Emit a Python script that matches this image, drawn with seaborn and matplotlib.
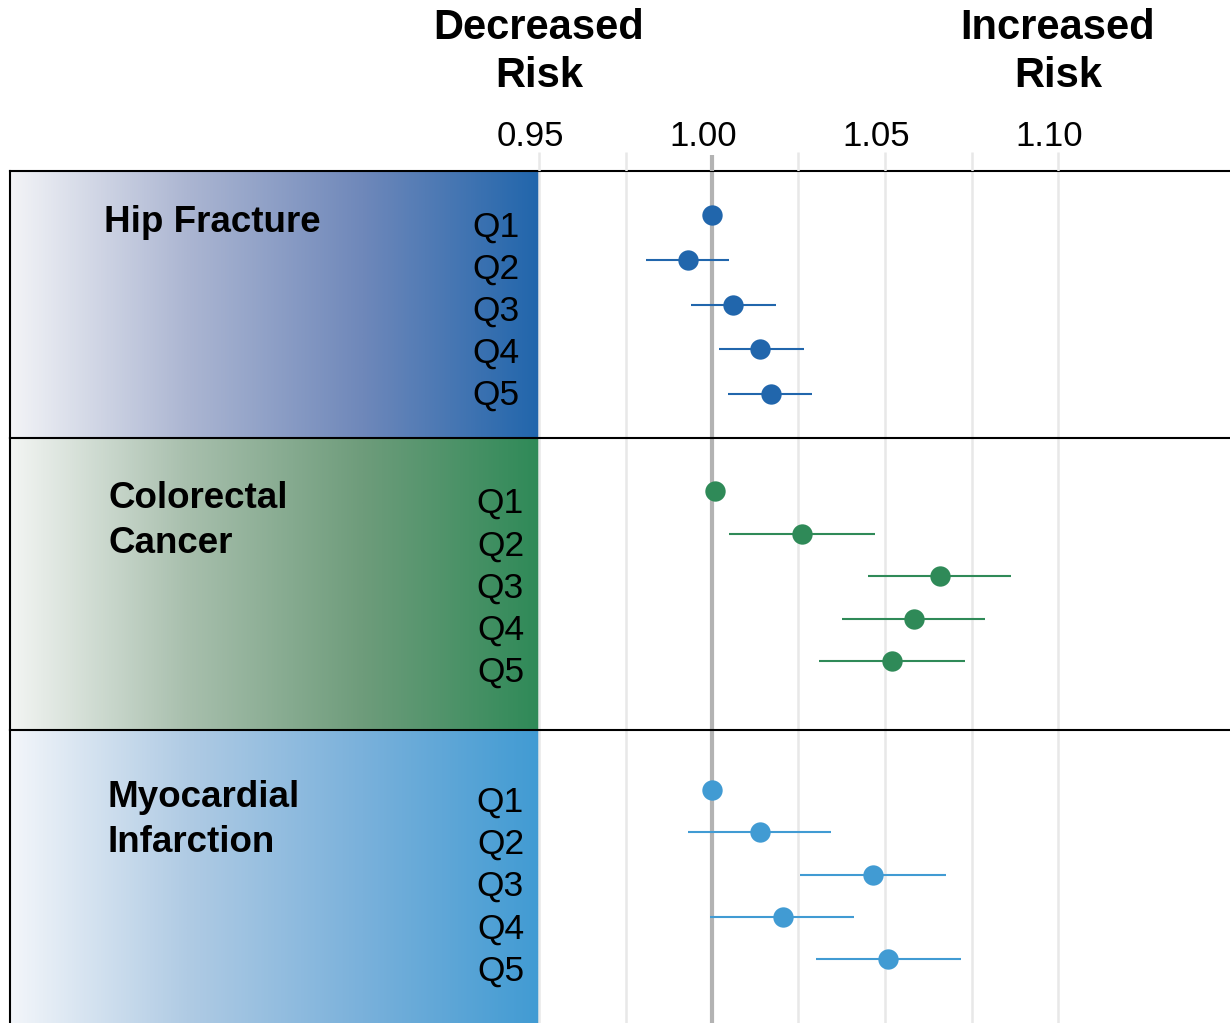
import numpy as np
import pandas as pd
import matplotlib
matplotlib.use("Agg")
import matplotlib.pyplot as plt
import matplotlib.transforms as mtransforms
from matplotlib.colors import LinearSegmentedColormap
import seaborn as sns

# ---------------- data ----------------
quintiles = ["Q1", "Q2", "Q3", "Q4", "Q5"]
outcome_lines = [["Hip Fracture"], ["Colorectal", "Cancer"], ["Myocardial", "Infarction"]]

hip_est = [1.000, 0.993, 1.006, 1.014, 1.017]
hip_lo = [np.nan, 0.981, 0.994, 1.002, 1.0045]
hip_hi = [np.nan, 1.005, 1.0185, 1.0265, 1.029]

crc_est = [1.001, 1.026, 1.066, 1.0585, 1.052]
crc_lo = [np.nan, 1.005, 1.045, 1.0375, 1.031]
crc_hi = [np.nan, 1.047, 1.0865, 1.079, 1.073]

mi_est = [1.000, 1.014, 1.0465, 1.0205, 1.051]
mi_lo = [np.nan, 0.993, 1.0255, 0.9995, 1.030]
mi_hi = [np.nan, 1.0345, 1.0675, 1.041, 1.072]

x_ticks = [0.95, 1.00, 1.05, 1.10]
x_tick_labels = ["0.95", "1.00", "1.05", "1.10"]
grid_vals = [0.95, 0.975, 1.025, 1.05, 1.075, 1.10]
ref_val = 1.0
header_left = ["Decreased", "Risk"]
header_right = ["Increased", "Risk"]

colors = ["#2166ac", "#2f8a58", "#419bd3"]
grad_stops = [
    ["#f3f4f7", "#acb6d2", "#6f88ba", "#2166ac"],
    ["#f3f5f3", "#a8bfad", "#6e9c7b", "#2f8a58"],
    ["#f3f6fa", "#b0cbe4", "#7ab1db", "#419bd3"],
]

# ---------------- layout (pixels) ----------------
W, H = 1230, 1023
sns.set_style("white")
plt.rcParams["font.family"] = ["Liberation Sans", "DejaVu Sans"]
plt.rcParams["text.color"] = "black"

fig = plt.figure(figsize=(W / 100, H / 100), dpi=100)

PX_PER_UNIT = 3460.0
X0 = 712.0
XL = 1 + (10 - X0) / PX_PER_UNIT
XR = 1 + (W - X0) / PX_PER_UNIT

# (panel top, panel bottom, Q1 point y, point spacing, label spacing) in px
panels = [(171, 438, 215, 44.75, 42.0),
          (438, 730, 491, 42.5, 42.3),
          (730, 1023, 790, 42.25, 42.1)]
qlabel_x = [0.9445, 0.9457, 0.9457]
name_pos = [(104, [232]), (108, [508, 553]), (107, [807, 852.5])]

series = [
    (hip_est, hip_lo, hip_hi),
    (crc_est, crc_lo, crc_hi),
    (mi_est, mi_lo, mi_hi),
]

for i, (top, bot, q1, sp, lsp) in enumerate(panels):
    ax = fig.add_axes([10 / W, 1 - bot / H, (W - 10) / W, (bot - top) / H])
    top_val = -(q1 - top) / sp
    bot_val = 4 + (bot - (q1 + 4 * sp)) / sp

    est, lo, hi = series[i]
    df = pd.DataFrame({"quintile": quintiles, "pos": np.arange(5, dtype=float),
                       "est": est, "lo": lo, "hi": hi})

    cmap = LinearSegmentedColormap.from_list(f"g{i}", grad_stops[i])
    ax.imshow(np.linspace(0, 1, 512)[None, :], cmap=cmap, aspect="auto",
              extent=[XL, 0.95, bot_val, top_val], zorder=0, interpolation="bilinear")

    for g in grid_vals:
        ax.axvline(g, color="#e8e8e8", lw=1.8, zorder=1)
    ax.axvline(ref_val, color="#b3b3b3", lw=3, zorder=2)

    ci = df.dropna()
    ax.hlines(ci["pos"], ci["lo"], ci["hi"], color=colors[i], lw=1.5, zorder=3)
    sns.scatterplot(data=df, x="est", y="pos", color=colors[i], s=215,
                    linewidth=0, ax=ax, zorder=4, legend=False)

    off = mtransforms.offset_copy(ax.transData, fig=fig, x=0, y=-22, units="dots")
    for _, r in df.iterrows():
        ax.text(qlabel_x[i], r["pos"] * lsp / sp, r["quintile"], ha="right",
                va="baseline", fontsize=25.5, color="black", transform=off, zorder=5)

    ax.set_xlim(XL, XR)
    ax.set_ylim(bot_val, top_val)
    ax.set_xticks([])
    ax.set_yticks([])
    ax.set_xlabel("")
    ax.set_ylabel("")
    for s in ["right", "bottom"]:
        ax.spines[s].set_visible(False)
    for s in ["top", "left"]:
        ax.spines[s].set_visible(True)
        ax.spines[s].set_color("black")
        ax.spines[s].set_linewidth(1.5)
        ax.spines[s].set_zorder(6)

    nx, baselines = name_pos[i]
    for line, by in zip(outcome_lines[i], baselines):
        fig.text(nx / W, 1 - by / H, line, ha="left", va="baseline",
                 fontsize=26.5, fontweight="bold", color="black")

# header area
hax = fig.add_axes([10 / W, 1 - 171 / H, (W - 10) / W, 171 / H])
hax.set_xlim(XL, XR)
hax.set_ylim(171, 0)
hax.axis("off")
hax.vlines(grid_vals, 152, 171, color="#e8e8e8", lw=1.8)
hax.vlines([ref_val], 155, 171, color="#b3b3b3", lw=3)
toff = mtransforms.offset_copy(hax.transData, fig=fig, x=-9, y=0, units="dots")
for v, lab in zip(x_ticks, x_tick_labels):
    hax.text(v, 146, lab, ha="center", va="baseline", fontsize=25,
             color="black", transform=toff)
for xv, lines in [(0.95, header_left), (1.10, header_right)]:
    for line, by in zip(lines, [39, 87]):
        hax.text(xv, by, line, ha="center", va="baseline", fontsize=30,
                 fontweight="bold", color="black")

fig.savefig("out.png", dpi=100)
